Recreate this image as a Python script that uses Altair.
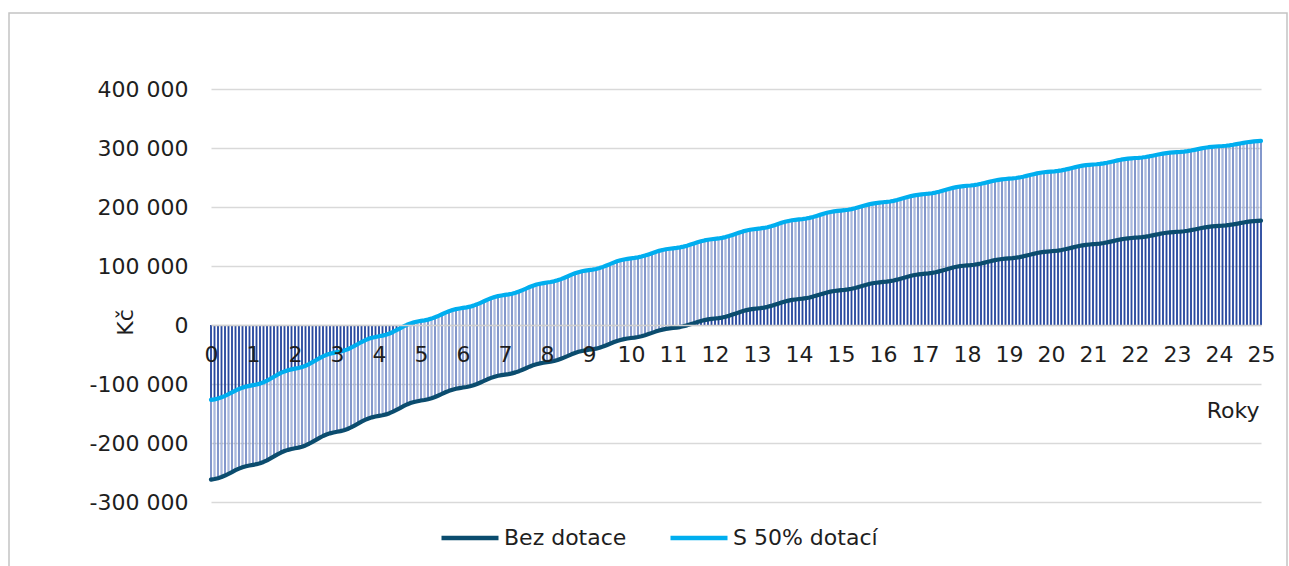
import altair as alt
import pandas as pd

# Cumulative cash flow of the installation, month by month over 25 years
investice = 262000          # initial cost (Kč)
dotace = 135000             # subsidy received at the start (Kč)

# yearly savings (Kč) for years 1..25
rocni_uspora = [25000, 28000, 28000, 27000, 26000,
                22000, 22000, 21000, 21000, 20000,
                17000, 16000, 17000, 16000, 15000,
                14000, 14000, 14000, 12000, 12000,
                12000, 11000, 10000, 10000, 9000]

# share of the yearly savings falling into each month, Jan..Dec (%)
mesicni_podil = [4.0, 5.5, 8.0, 10.0, 11.5, 12.0, 12.5, 11.0, 9.0, 7.0, 5.0, 4.5]

serie = ["Bez dotace", "S 50% dotací"]
barvy = ["#0B4C6E", "#00AEEF"]
osa_y_hodnoty = [-300000, -200000, -100000, 0, 100000, 200000, 300000, 400000]
osa_x_hodnoty = list(range(26))

rows = []
bez = -investice
rows.append({"rok": 0.0, "bez": bez, "s": bez + dotace})
for r, uspora in enumerate(rocni_uspora):
    for m, podil in enumerate(mesicni_podil):
        bez += uspora * podil / 100.0
        rows.append({"rok": r + (m + 1) / 12.0, "bez": bez, "s": bez + dotace})
df = pd.DataFrame(rows)
df["nula"] = 0.0

long = df.melt(id_vars="rok", value_vars=["bez", "s"], var_name="k", value_name="kc")
long["rada"] = long["k"].map({"bez": serie[0], "s": serie[1]})

FONT = "DejaVu Sans"
FS = 22
TXT = "#1E1E1E"
W, H = 1050, 413
LEFT, TOP = 211, 89

xscale = alt.Scale(domain=[0, 25], nice=False, zero=False)
yscale = alt.Scale(domain=[-300000, 400000], nice=False, zero=False)

xaxis = alt.Axis(
    values=osa_x_hodnoty, format="d", title="Roky",
    offset=-177, zindex=1, grid=False,
    ticks=False, tickSize=0, labelPadding=19,
    domainColor="#D0D0D0", domainWidth=1.5,
    labelFont=FONT, labelFontSize=FS, labelColor=TXT,
    labelFlush=False, labelOverlap=False,
    titleFont=FONT, titleFontSize=FS, titleFontWeight="normal", titleColor=TXT,
    titleAlign="right", titleBaseline="middle", titleX=1048, titleY=85,
)
yaxis = alt.Axis(
    values=osa_y_hodnoty, title="Kč",
    labelExpr="(datum.value < 0 ? '-' : '') + replace(format(abs(datum.value), ',d'), ',', ' ')",
    domain=False, ticks=False, labelPadding=23,
    grid=True, gridColor="#D9D9D9", gridWidth=1.5,
    labelFont=FONT, labelFontSize=FS, labelColor=TXT,
    titleFont=FONT, titleFontSize=FS, titleFontWeight="normal", titleColor=TXT,
    titleAngle=270, titleAlign="center", titleBaseline="middle",
    titleX=-86, titleY=233,
)

X = alt.X("rok:Q", scale=xscale, axis=xaxis)


def Y(field):
    return alt.Y(f"{field}:Q", scale=yscale, axis=yaxis)


base = alt.Chart(df)

# drop lines from each point to the zero axis
drop_bez = base.mark_rule(color="#2A4A9F", strokeWidth=1.5).encode(x=X, y=Y("nula"), y2="bez:Q")
drop_s = base.mark_rule(color="#2A4A9F", strokeWidth=1.5).encode(x=X, y=Y("nula"), y2="s:Q")
# high-low lines between the two series
hilo = base.mark_rule(color="#A9B9E0", strokeWidth=1.0).encode(x=X, y=Y("bez"), y2="s:Q")

lines = alt.Chart(long).mark_line(strokeWidth=4.2, strokeJoin="round", strokeCap="round").encode(
    x=X,
    y=Y("kc"),
    color=alt.Color(
        "rada:N",
        scale=alt.Scale(domain=serie, range=barvy),
        legend=alt.Legend(
            title=None, orient="none", direction="horizontal",
            legendX=228, legendY=418,
            symbolType="stroke", symbolSize=3249, symbolStrokeWidth=4.5,
            labelFont=FONT, labelFontSize=FS, labelColor=TXT,
            labelOffset=3, columnPadding=34,
        ),
    ),
)

frame = alt.Chart(alt.Data(values=[{}])).mark_rect(
    fill=None, stroke="#C4C4C4", strokeWidth=1.5
).encode(
    x=alt.value(9 - LEFT), x2=alt.value(1287 - LEFT),
    y=alt.value(13 - TOP), y2=alt.value(600 - TOP),
)

chart = alt.layer(frame, drop_bez, drop_s, hilo, lines).properties(
    width=W, height=H,
    autosize=alt.AutoSizeParams(type="none"),
    padding={"left": LEFT, "top": TOP, "right": 1289 - LEFT - W, "bottom": 566 - TOP - H},
    background="white",
).configure_view(stroke=None)

chart.save("out.html", embed_options={"renderer": "svg", "actions": False})
